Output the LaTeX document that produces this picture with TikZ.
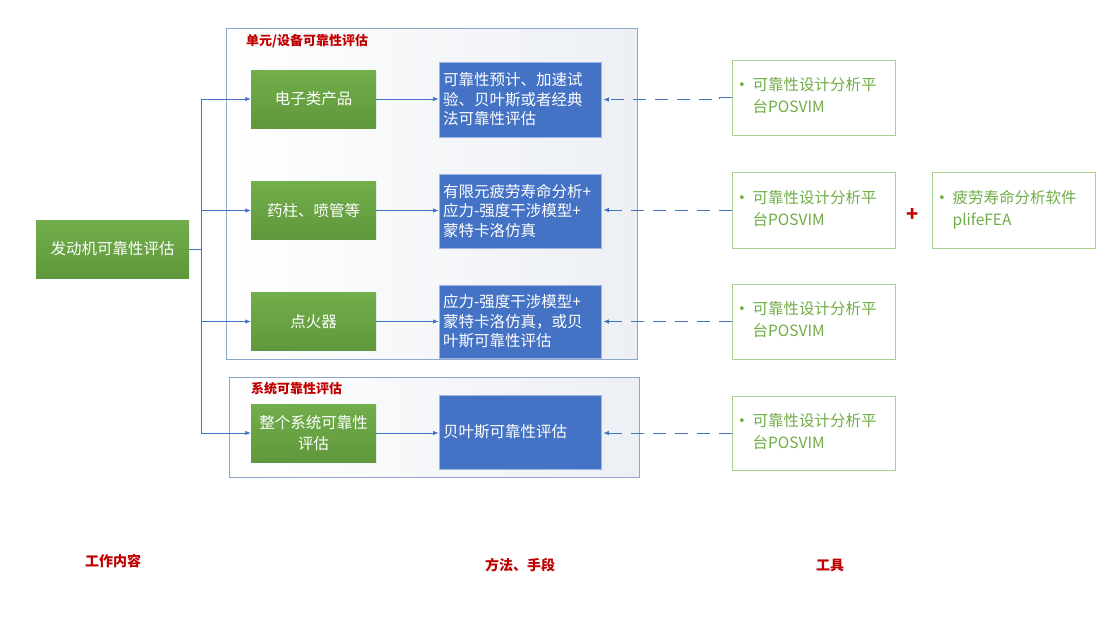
\documentclass[tikz,border=0pt]{standalone}
\usepackage{fontspec}
\setmainfont{Noto Sans CJK SC}
\newfontfamily\dejavu{DejaVu Sans}
\usetikzlibrary{arrows.meta}
\definecolor{gtop}{HTML}{72AE4A}
\definecolor{gbot}{HTML}{5F973C}
\definecolor{bfill}{HTML}{4472C4}
\definecolor{bline}{HTML}{9FB4DE}
\definecolor{tline}{HTML}{A9D18E}
\definecolor{ttext}{HTML}{70AD47}
\definecolor{dred}{HTML}{C00000}
\definecolor{grpline}{HTML}{8EA7CC}
\definecolor{grpR}{HTML}{ECEFF4}
\definecolor{conn}{HTML}{4472C4}
\newcommand\tooltext[2]{\begin{tabular}{@{}l@{\hspace{7pt}}l@{}}\raisebox{1pt}{\dejavu\fontsize{13}{13}\selectfont •}&#1\\&#2\end{tabular}}
\tikzset{
  grp/.style={draw=grpline, line width=0.9pt, left color=white, right color=grpR, inner sep=0},
  grptitle/.style={text=dred, font=\bfseries\fontsize{13}{15}\selectfont, inner sep=0, anchor=west},
  greenbox/.style={text=white, top color=gtop, bottom color=gbot, draw=none, minimum width=125pt, minimum height=58pt, font=\fontsize{15.5}{20.5}\selectfont, align=center, inner sep=0},
  bluebox/.style={fill=bfill, draw=bline, line width=0.8pt, text=white, text width=154pt, inner xsep=4pt, inner ysep=0, align=left, font=\fontsize{15.5}{19.5}\selectfont},
  toolbox/.style={draw=tline, line width=1pt, minimum width=163pt, minimum height=75pt, text width=151pt, inner xsep=6pt, inner ysep=0, text=ttext, align=left, font=\fontsize{15.5}{22}\selectfont},
  arr/.style={draw=conn, line width=0.8pt, -{Latex[length=5.5pt,width=4.5pt]}},
  dasharr/.style={draw=conn, line width=0.8pt, dash pattern=on 13pt off 9pt, shorten >=2pt, -{Latex[length=5.5pt,width=4.5pt]}},
  botlabel/.style={text=dred, font=\bfseries\fontsize{14}{16}\selectfont, inner sep=0}
}
\begin{document}
\begin{tikzpicture}[x=1pt,y=-1pt]
\useasboundingbox[fill=white] (0,0) rectangle (1113,622);
% groups
\node[grp, minimum width=411pt, minimum height=331pt] (grp1) at (431.5,193.5) {};
\node[grp, minimum width=410pt, minimum height=100pt] (grp2) at (434,427) {};
\node[grptitle] (gt1) at (246,41) {单元/设备可靠性评估};
\node[grptitle] (gt2) at (251,389) {系统可靠性评估};
% main node
\node[greenbox, minimum width=153pt] (main) at (112.5,249) {发动机可靠性评估};
% green nodes
\node[greenbox] (g1) at (313.5,99) {电子类产品};
\node[greenbox] (g2) at (313.5,210.5) {药柱、喷管等};
\node[greenbox] (g3) at (313.5,321.5) {点火器};
\node[greenbox] (g4) at (313.5,433) {整个系统可靠性\\评估};
% blue nodes
\node[bluebox, minimum height=75pt] (b1) at (520,99.5) {可靠性预计、加速试\\验、贝叶斯或者经典\\法可靠性评估};
\node[bluebox, minimum height=74pt] (b2) at (520,211) {有限元疲劳寿命分析+\\应力-强度干涉模型+\\蒙特卡洛仿真};
\node[bluebox, minimum height=73pt] (b3) at (520,321.5) {应力-强度干涉模型+\\蒙特卡洛仿真，或贝\\叶斯可靠性评估};
\node[bluebox, minimum height=74pt] (b4) at (520,432) {贝叶斯可靠性评估};
% tool nodes
\node[toolbox] (t1) at (813.5,97.5) {\tooltext{可靠性设计分析平}{台POSVIM}};
\node[toolbox, minimum height=76pt] (t2) at (813.5,210) {\tooltext{可靠性设计分析平}{台POSVIM}};
\node[toolbox] (t3) at (813.5,321.5) {\tooltext{可靠性设计分析平}{台POSVIM}};
\node[toolbox, minimum height=74pt] (t4) at (813.5,433) {\tooltext{可靠性设计分析平}{台POSVIM}};
\node[toolbox, minimum height=76pt] (t5) at (1013.5,210) {\tooltext{疲劳寿命分析软件}{plifeFEA}};
\node[text=dred, font=\bfseries\fontsize{20}{20}\selectfont, inner sep=0] (plus) at (913,215) {+};
% connectors
\coordinate (bus) at (201,249);
\draw[draw=conn, line width=0.8pt] (main.east) -- (bus);
\draw[arr] (bus) |- (g1.west);
\draw[arr] (bus) |- (g2.west);
\draw[arr] (bus) |- (g3.west);
\draw[arr] (bus) |- (g4.west);
\draw[arr] (g1.east) -- (b1.west |- g1.east);
\draw[arr] (g2.east) -- (b2.west |- g2.east);
\draw[arr] (g3.east) -- (b3.west |- g3.east);
\draw[arr] (g4.east) -- (b4.west |- g4.east);
\draw[dasharr] (t1.west) -- ++(-12,0) |- (b1.east);
\draw[dasharr] (t2.west) -- (b2.east |- t2.west);
\draw[dasharr] (t3.west) -- (b3.east |- t3.west);
\draw[dasharr] (t4.west) -- (b4.east |- t4.west);
% bottom labels
\node[botlabel] (l1) at (113,561) {工作内容};
\node[botlabel] (l2) at (520,565) {方法、手段};
\node[botlabel] (l3) at (830,565) {工具};
\end{tikzpicture}
\end{document}
